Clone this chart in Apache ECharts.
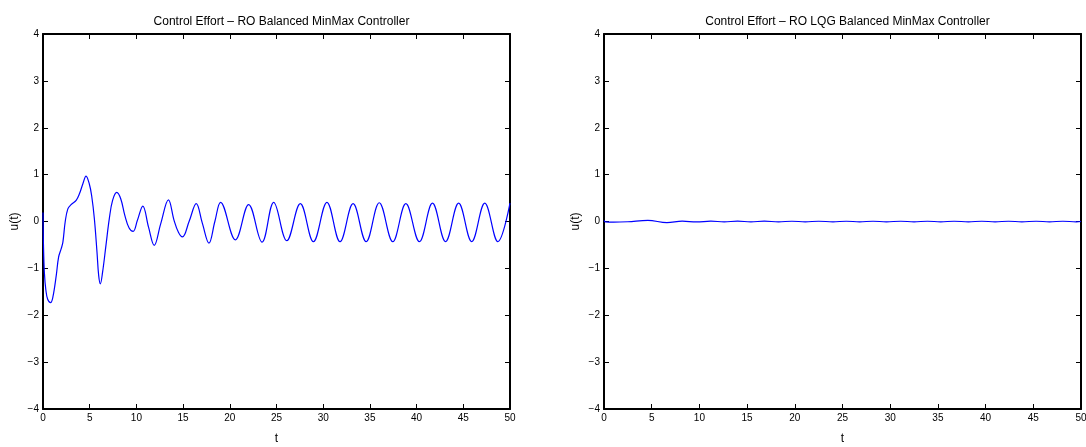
<!DOCTYPE html>
<html>
<head>
<meta charset="utf-8">
<script src="https://cdn.jsdelivr.net/npm/echarts@6/dist/echarts.min.js"></script>
<style>
  html, body { margin: 0; padding: 0; background: #fff; }
  #chart { width: 1086px; height: 447px; }
</style>
</head>
<body>
<div id="chart"></div>
<script>
// Control effort u(t) of the RO balanced MinMax controller
const roTime = [
  0, 0.05, 0.15, 0.3, 0.5, 0.82, 1.06, 1.42, 1.67, 1.95, 2.13, 2.38, 2.66, 3.01,
  3.55, 3.9, 4.26, 4.61, 4.96, 5.21, 5.5, 5.78, 5.96, 6.14, 6.38, 6.74, 7.1, 7.45,
  7.9, 8.33, 8.76, 9.22, 9.65, 10.1, 10.69, 11.3, 11.91, 12.6, 13.43, 14.04, 14.5,
  14.93, 15.64, 16.41, 17.05, 17.77, 18.4, 19.01, 20.6, 22.02, 23.45, 24.7, 26.1,
  27.55, 28.95, 30.4, 31.8, 33.2, 34.6, 36.0, 37.45, 38.85, 40.3, 41.7, 43.1,
  44.5, 45.9, 47.3, 48.7, 50.0
];
const roEffort = [
  0.19, -0.5, -1.1, -1.45, -1.66, -1.73, -1.61, -1.15, -0.76, -0.58, -0.44, 0.0,
  0.27, 0.36, 0.45, 0.59, 0.80, 0.97, 0.80, 0.55, 0.06, -0.65, -1.15, -1.33,
  -1.08, -0.51, 0.06, 0.45, 0.62, 0.48, 0.13, -0.14, -0.21, 0.02, 0.33, -0.12,
  -0.51, -0.05, 0.46, 0.02, -0.23, -0.33, 0.0, 0.38, -0.03, -0.46, 0.0, 0.41,
  -0.39, 0.36, -0.44, 0.41, -0.41, 0.38, -0.43, 0.41, -0.43, 0.38, -0.43, 0.40,
  -0.43, 0.38, -0.43, 0.39, -0.43, 0.39, -0.43, 0.39, -0.43, 0.39
];

// Control effort u(t) of the RO LQG balanced MinMax controller
const lqgTime = [
  0, 0.15, 1.0, 2.5, 4.6, 6.6, 8.2, 9.7, 11.2, 12.6, 14.0, 15.4, 16.8, 18.3,
  19.7, 21.1, 22.5, 24.0, 25.4, 26.8, 28.2, 29.6, 31.1, 32.5, 33.9, 35.3, 36.7,
  38.2, 39.6, 41.0, 42.4, 43.8, 45.3, 46.7, 48.1, 49.5, 50.0
];
const lqgEffort = [
  0.02, -0.01, -0.015, -0.005, 0.025, -0.025, 0.006, -0.008, 0.006, -0.007,
  0.006, -0.006, 0.006, -0.006, 0.005, -0.006, 0.005, -0.006, 0.005, -0.006,
  0.005, -0.006, 0.005, -0.006, 0.005, -0.006, 0.005, -0.006, 0.005, -0.006,
  0.005, -0.006, 0.005, -0.006, 0.005, -0.006, 0.0
];

const titles = [
  'Control Effort \u2013 RO Balanced MinMax Controller',
  'Control Effort \u2013 RO LQG Balanced MinMax Controller'
];
const xTicks = { min: 0, max: 50, step: 5 };
const yTicks = { min: -4, max: 4, step: 1 };

const FONT = '"Liberation Sans", Arial, Helvetica, sans-serif';
const minus = v => String(v).replace('-', '\u2212');

const grids = [
  { left: 43, top: 34, width: 467, height: 375, outerBoundsMode: 'none', containLabel: false },
  { left: 604, top: 34, width: 477, height: 375, outerBoundsMode: 'none', containLabel: false }
];

const frameLine = { show: true, onZero: false, lineStyle: { color: '#000', width: 2 } };
const tick = { show: true, inside: true, length: 5, lineStyle: { color: '#000', width: 1 } };

const xAxes = [], yAxes = [], series = [], titleList = [];
grids.forEach((g, i) => {
  titleList.push({
    text: titles[i],
    left: g.left + g.width / 2,
    top: 11,
    textAlign: 'center',
    textStyle: { fontFamily: FONT, fontSize: 12, fontWeight: 'normal', color: '#000' }
  });
  // bottom (labelled) and top (ticks only) x axes
  xAxes.push({
    type: 'value', gridIndex: i, position: 'bottom',
    min: xTicks.min, max: xTicks.max, interval: xTicks.step,
    name: 't', nameLocation: 'middle', nameGap: 24,
    nameTextStyle: { fontFamily: FONT, fontSize: 12, color: '#000' },
    axisLine: frameLine, axisTick: tick, splitLine: { show: false },
    axisLabel: { fontFamily: FONT, fontSize: 10, color: '#000', margin: 4, formatter: minus, hideOverlap: false }
  });
  xAxes.push({
    type: 'value', gridIndex: i, position: 'top',
    min: xTicks.min, max: xTicks.max, interval: xTicks.step,
    axisLine: frameLine, axisTick: tick, splitLine: { show: false },
    axisLabel: { show: false }
  });
  // left (labelled) and right (ticks only) y axes
  yAxes.push({
    type: 'value', gridIndex: i, position: 'left',
    min: yTicks.min, max: yTicks.max, interval: yTicks.step,
    name: 'u(t)', nameLocation: 'middle', nameGap: 22, nameRotate: 90,
    nameTextStyle: { fontFamily: FONT, fontSize: 12, color: '#000' },
    axisLine: frameLine, axisTick: tick, splitLine: { show: false },
    axisLabel: { fontFamily: FONT, fontSize: 10, color: '#000', margin: 4, formatter: minus }
  });
  yAxes.push({
    type: 'value', gridIndex: i, position: 'right',
    min: yTicks.min, max: yTicks.max, interval: yTicks.step,
    axisLine: frameLine, axisTick: tick, splitLine: { show: false },
    axisLabel: { show: false }
  });
});

const zip = (ts, us) => ts.map((t, k) => [t, us[k]]);
series.push({
  type: 'line', xAxisIndex: 0, yAxisIndex: 0, data: zip(roTime, roEffort),
  smooth: 0.38, showSymbol: false, clip: true, animation: false,
  lineStyle: { color: '#0000ff', width: 1.2 }
});
series.push({
  type: 'line', xAxisIndex: 2, yAxisIndex: 2, data: zip(lqgTime, lqgEffort),
  smooth: 0.38, showSymbol: false, clip: true, animation: false,
  lineStyle: { color: '#0000ff', width: 1.2 }
});

const chart = echarts.init(document.getElementById('chart'), null, { renderer: 'canvas' });
chart.setOption({
  animation: false,
  backgroundColor: '#fff',
  title: titleList,
  grid: grids,
  xAxis: xAxes,
  yAxis: yAxes,
  series: series
});
</script>
</body>
</html>
